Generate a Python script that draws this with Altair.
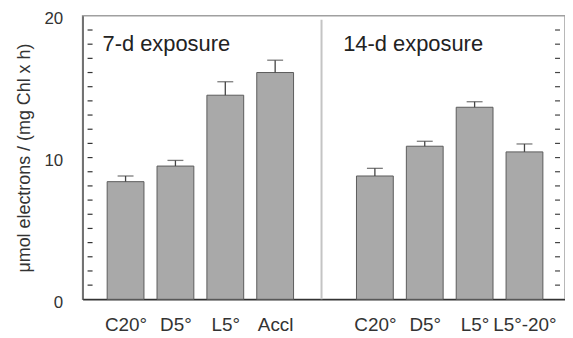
import altair as alt
import pandas as pd

# ---- data ----
labels = ["C20°", "D5°", "L5°", "Accl", "C20°", "D5°", "L5°", "L5°-20°"]
slots = [1, 2, 3, 4, 6, 7, 8, 9]
values = [8.3, 9.4, 14.4, 16.0, 8.7, 10.8, 13.55, 10.4]
errors = [0.4, 0.4, 0.95, 0.87, 0.54, 0.35, 0.39, 0.56]
panel_titles = ["7-d exposure", "14-d exposure"]
y_tick_labels = [0, 10, 20]
minor_ticks = list(range(1, 20))
divider_slot = 4.93

X0, X1 = 0.238, 9.713
TL = 0.1  # tick length in slot units (~5 px)

df = pd.DataFrame({"slot": slots, "label": labels, "value": values, "err": errors})
df["top"] = df["value"] + df["err"]
ticks_df = pd.DataFrame({"tk": minor_ticks})
ticks_df["la"] = X0
ticks_df["lb"] = X0 + TL
ticks_df["ra"] = X1 - TL
ticks_df["rb"] = X1

W, H = 485, 285
xscale = alt.Scale(domain=[X0, X1], nice=False, zero=False)
yscale = alt.Scale(domain=[0, 20], nice=False)

label_arr = ["''"] * 10
for s, l in zip(slots, labels):
    label_arr[s] = "'" + l + "'"
label_expr = "[" + ",".join(label_arr) + "][datum.value]"

base = alt.Chart(df)

bars = base.mark_bar(size=37, fill="#a9a9a9", stroke="#5c5c5c", strokeWidth=1).encode(
    x=alt.X("slot:Q", scale=xscale,
            axis=alt.Axis(values=slots, labelExpr=label_expr, ticks=False, grid=False,
                          title=None, labelFontSize=19, labelPadding=16, labelColor="#333",
                          domainColor="#333", domainWidth=1.5, labelFlush=False)),
    y=alt.Y("value:Q", scale=yscale,
            axis=alt.Axis(values=y_tick_labels, ticks=False, grid=False,
                          title="μmol electrons / (mg Chl x h)", titleFontSize=18,
                          titleFontWeight="normal", titleColor="#333", titlePadding=10,
                          labelFontSize=17, labelPadding=20, labelColor="#333", labelOffset=3,
                          domainColor="#444", domainWidth=1.2)),
)

err_rules = base.mark_rule(color="#444", strokeWidth=1.3).encode(
    x="slot:Q", y="value:Q", y2="top:Q")
caps = base.mark_tick(orient="horizontal", size=16, thickness=1.3, color="#444").encode(
    x="slot:Q", y="top:Q")

tick_base = alt.Chart(ticks_df)
left_ticks = tick_base.mark_rule(color="#333", strokeWidth=1.2).encode(
    y=alt.Y("tk:Q", scale=yscale), x=alt.X("la:Q", scale=xscale), x2="lb:Q")
right_ticks = tick_base.mark_rule(color="#444", strokeWidth=1.2).encode(
    y=alt.Y("tk:Q", scale=yscale), x=alt.X("ra:Q", scale=xscale), x2="rb:Q")

divider = alt.Chart(pd.DataFrame({"d": [divider_slot]})).mark_rule(
    color="#c4c4c4", strokeWidth=2).encode(
    x=alt.X("d:Q", scale=xscale), y=alt.value(4), y2=alt.value(H))

t1 = alt.Chart(pd.DataFrame({"pt": [panel_titles[0]]})).mark_text(
    align="left", baseline="alphabetic", fontSize=22, color="#222").encode(
    text="pt:N", x=alt.value(20), y=alt.value(35))
t2 = alt.Chart(pd.DataFrame({"pt": [panel_titles[1]]})).mark_text(
    align="left", baseline="alphabetic", fontSize=22, color="#222").encode(
    text="pt:N", x=alt.value(262), y=alt.value(35))

chart = alt.layer(bars, divider, err_rules, caps, t1, t2, left_ticks, right_ticks).properties(
    width=W, height=H,
    autosize=alt.AutoSizeParams(type="none"),
    padding={"left": 75, "top": 7, "right": 0, "bottom": 34},
).configure(font="Liberation Sans").configure_view(stroke="#a0a0a0", strokeWidth=1.5)

chart.save("out.html", embed_options={"renderer": "svg", "actions": False})
